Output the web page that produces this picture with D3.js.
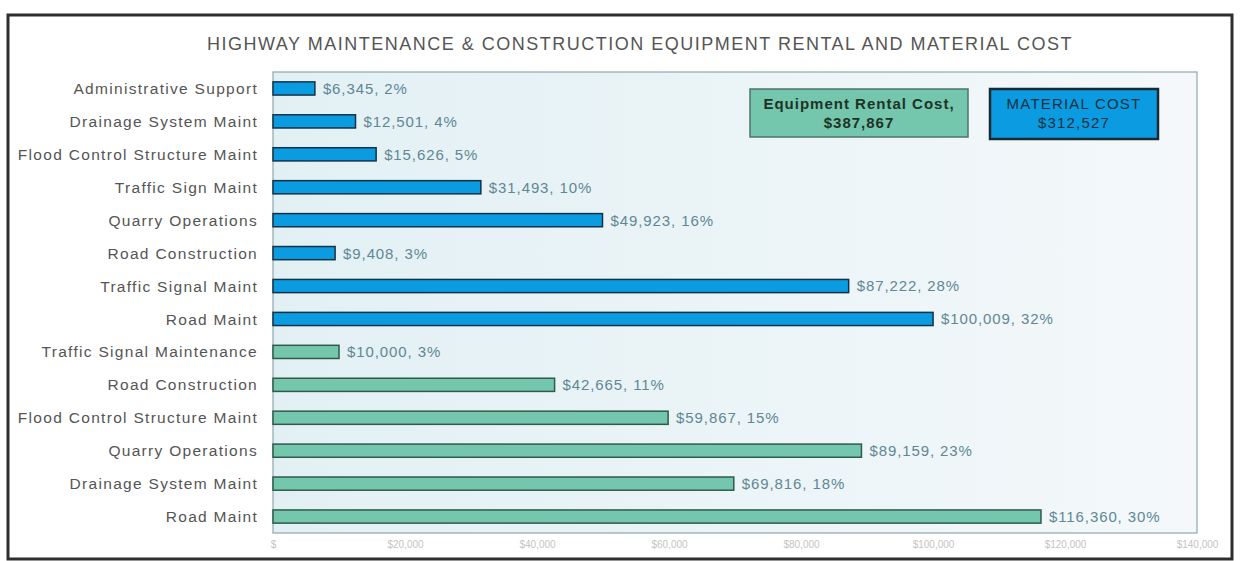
<!DOCTYPE html>
<html>
<head>
<meta charset="utf-8">
<script src="https://cdn.jsdelivr.net/npm/d3@7"></script>
<style>
  body { margin: 0; background: #fff; }
  svg { display: block; font-family: "Liberation Sans", Arial, sans-serif; }
</style>
</head>
<body>
<svg id="chart" width="1242" height="561"></svg>
<script>
// Data -------------------------------------
var categories = [
  'Administrative Support', 'Drainage System Maint', 'Flood Control Structure Maint',
  'Traffic Sign Maint', 'Quarry Operations', 'Road Construction', 'Traffic Signal Maint',
  'Road Maint', 'Traffic Signal Maintenance', 'Road Construction',
  'Flood Control Structure Maint', 'Quarry Operations', 'Drainage System Maint', 'Road Maint'
];
var series = ['material', 'material', 'material', 'material', 'material', 'material', 'material',
  'material', 'equipment', 'equipment', 'equipment', 'equipment', 'equipment', 'equipment'];
var costs = [6345, 12501, 15626, 31493, 49923, 9408, 87222, 100009,
  10000, 42665, 59867, 89159, 69816, 116360];
var shares = [2, 4, 5, 10, 16, 3, 28, 32, 3, 11, 15, 23, 18, 30];
var tickValues = [0, 20000, 40000, 60000, 80000, 100000, 120000, 140000];
var tickLabels = ['$', '$20,000', '$40,000', '$60,000', '$80,000', '$100,000', '$120,000', '$140,000'];
var legendItems = [
  { key: 'equipment', line1: 'Equipment Rental Cost,', line2: '$387,867' },
  { key: 'material', line1: 'MATERIAL COST', line2: '$312,527' }
];

var fills = { material: '#0b9be0', equipment: '#74c6ad' };
var strokes = { material: '#143246', equipment: '#2f5a4c' };

// Layout -------------------------------------
var svg = d3.select('#chart');
var plot = { left: 273, right: 1197, top: 72, bottom: 533 };

// outer frame
svg.append('rect')
  .attr('x', 8).attr('y', 15)
  .attr('width', 1224).attr('height', 544)
  .attr('fill', '#fff')
  .attr('stroke', '#2e2e2e')
  .attr('stroke-width', 3);

// title
svg.append('text')
  .attr('x', 640).attr('y', 50)
  .attr('text-anchor', 'middle')
  .attr('fill', '#555')
  .style('font-size', '18px')
  .style('letter-spacing', '1.5px')
  .text('HIGHWAY MAINTENANCE & CONSTRUCTION EQUIPMENT RENTAL AND MATERIAL COST');

// plot background gradient
var defs = svg.append('defs');
var grad = defs.append('linearGradient').attr('id', 'bg').attr('x1', 0).attr('x2', 1).attr('y1', 0).attr('y2', 0);
grad.append('stop').attr('offset', '0%').attr('stop-color', '#e2f0f4');
grad.append('stop').attr('offset', '100%').attr('stop-color', '#f4f8fa');

svg.append('rect')
  .attr('x', plot.left).attr('y', plot.top)
  .attr('width', plot.right - plot.left).attr('height', plot.bottom - plot.top)
  .attr('fill', 'url(#bg)')
  .attr('stroke', '#8fa7ad')
  .attr('stroke-width', 1.2);

// Scales -------------------------------------
var x = d3.scaleLinear()
  .domain([0, 140000])
  .range([plot.left, plot.right]);

var y = d3.scaleBand()
  .domain(d3.range(categories.length))
  .range([plot.top, plot.bottom])
  .paddingInner(0.6)
  .paddingOuter(0.3);

// Bars -------------------------------------
svg.selectAll('rect.bar')
  .data(d3.range(categories.length))
  .enter()
  .append('rect')
  .attr('class', 'bar')
  .attr('x', x(0))
  .attr('y', function(i) { return y(i); })
  .attr('width', function(i) { return x(costs[i]) - x(0); })
  .attr('height', y.bandwidth())
  .attr('fill', function(i) { return fills[series[i]]; })
  .attr('stroke', function(i) { return strokes[series[i]]; })
  .attr('stroke-width', 1.5);

// value labels
svg.selectAll('text.val')
  .data(d3.range(categories.length))
  .enter()
  .append('text')
  .attr('class', 'val')
  .attr('x', function(i) { return x(costs[i]) + 8; })
  .attr('y', function(i) { return y(i) + y.bandwidth() / 2; })
  .attr('dy', '0.36em')
  .attr('fill', '#5f8794')
  .style('font-size', '15px')
  .style('letter-spacing', '0.9px')
  .text(function(i) { return '$' + d3.format(',')(costs[i]) + ', ' + shares[i] + '%'; });

// category labels
svg.selectAll('text.cat')
  .data(d3.range(categories.length))
  .enter()
  .append('text')
  .attr('class', 'cat')
  .attr('x', 258)
  .attr('y', function(i) { return y(i) + y.bandwidth() / 2; })
  .attr('dy', '0.36em')
  .attr('text-anchor', 'end')
  .attr('fill', '#555')
  .style('font-size', '15.5px')
  .style('letter-spacing', '1.3px')
  .text(function(i) { return categories[i]; });

// x axis tick labels
var xAxis = d3.axisBottom(x)
  .tickValues(tickValues)
  .tickSize(0)
  .tickPadding(0)
  .tickFormat(function(d, i) { return tickLabels[i]; });

var axisG = svg.append('g')
  .attr('transform', 'translate(0,' + (plot.bottom + 8) + ')')
  .call(xAxis);
axisG.select('.domain').remove();
axisG.selectAll('text')
  .attr('fill', '#c4c4c4')
  .style('font-size', '10px')
  .style('font-family', '"Liberation Sans", Arial, sans-serif');

// Legend boxes -------------------------------------
var boxes = [
  { x: 750, y: 89, w: 218, h: 48 },
  { x: 990, y: 89, w: 168, h: 50 }
];
legendItems.forEach(function(item, k) {
  var b = boxes[k];
  var g = svg.append('g');
  g.append('rect')
    .attr('x', b.x).attr('y', b.y)
    .attr('width', b.w).attr('height', b.h)
    .attr('fill', fills[item.key])
    .attr('stroke', k === 0 ? '#4d7466' : '#1a2a33')
    .attr('stroke-width', k === 0 ? 1.5 : 2.5);
  var t = g.append('text')
    .attr('text-anchor', 'middle')
    .attr('fill', k === 0 ? '#1e3327' : '#173040')
    .style('font-size', '15px')
    .style('letter-spacing', k === 0 ? '1px' : '1.2px')
    .style('font-weight', k === 0 ? 'bold' : 'normal');
  t.append('tspan').attr('x', b.x + b.w / 2).attr('y', b.y + 20).text(item.line1);
  t.append('tspan').attr('x', b.x + b.w / 2).attr('y', b.y + 39).text(item.line2);
});
</script>
</body>
</html>
